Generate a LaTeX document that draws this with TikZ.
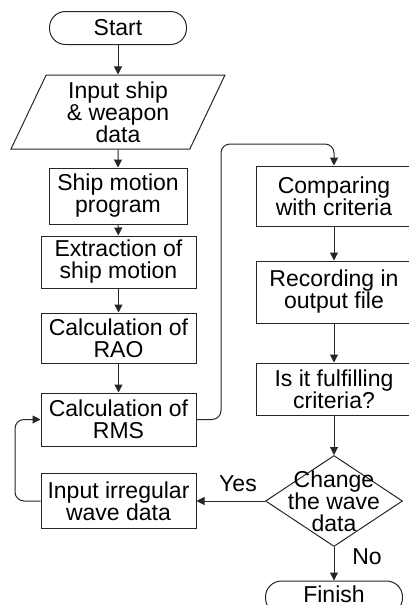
\documentclass[tikz,border=0pt]{standalone}
\usepackage{fontspec}
\setmainfont{Liberation Sans}
\usetikzlibrary{shapes.geometric,arrows.meta}

\begin{document}
\begin{tikzpicture}[x=1pt,y=-1pt,font=\fontsize{23}{22}\selectfont]
\tikzstyle{terminal} = [draw=black!85, line width=1pt, rectangle, rounded corners=16pt, minimum width=137pt, minimum height=33pt, inner sep=0pt]
\tikzstyle{inputbox} = [draw=black!85, line width=1pt, trapezium, trapezium left angle=60, trapezium right angle=120, trapezium stretches body, minimum width=214pt, minimum height=74pt, inner sep=0pt, align=center]
\tikzstyle{process} = [draw=black!85, line width=1pt, rectangle, inner sep=0pt, align=center]
\tikzstyle{decision} = [draw=black!85, line width=1pt, diamond, minimum width=137pt, minimum height=91pt, inner sep=0pt]
\tikzstyle{flow edge} = [draw=black!85, line width=1pt, -{Triangle[length=8pt,width=8pt]}]
\tikzstyle{loop edge} = [flow edge, rounded corners=9pt]
\useasboundingbox (0,0) rectangle (409,605);
\clip (0,0) rectangle (409,605);
% left column
\node[terminal] (start) at (118,28) {Start};
\node[inputbox] (input) at (118,112) {Input ship\\\& weapon\\data};
\node[process, minimum width=138pt, minimum height=56pt] (ship) at (118,196) {Ship motion\\program};
\node[process, minimum width=155pt, minimum height=52pt] (extract) at (118.5,262) {Extraction of\\ship motion};
\node[process, minimum width=155pt, minimum height=50pt] (rao) at (118.5,338) {Calculation of\\RAO};
\node[process, minimum width=155pt, minimum height=53pt] (rms) at (118.5,419.5) {Calculation of\\RMS};
\node[process, minimum width=155pt, minimum height=55pt] (irreg) at (118.5,501) {Input irregular\\wave data};
% right column
\node[process, minimum width=156pt, minimum height=60pt] (comp) at (334,196) {Comparing\\with criteria};
\node[process, minimum width=156pt, minimum height=62pt] (record) at (334,292) {Recording in\\output file};
\node[process, minimum width=156pt, minimum height=52pt] (check) at (334,389) {Is it fulfilling\\criteria?};
\node[decision, label={[align=center]center:Change\\the wave\\data}] (change) at (334,501) {};
\node[terminal, text depth=7pt] (finish) at (334,597.5) {Finish};
\node (yes) at (238,484) {Yes};
\node (no) at (367,557) {No};
\coordinate (c_top) at (221,144);
\coordinate (c_left) at (15,501);
\path[flow edge] (start) -- (input);
\path[flow edge] (input) -- (ship);
\path[flow edge] (ship) -- (extract);
\path[flow edge] (extract) -- (rao);
\path[flow edge] (rao) -- (rms);
\path[loop edge] (rms.east) -| (c_top) -| (comp.north);
\path[flow edge] (comp) -- (record);
\path[flow edge] (record) -- (check);
\path[flow edge] (check) -- (change);
\path[flow edge] (change) -- (finish);
\path[flow edge] (change) -- (irreg);
\path[loop edge] (irreg.west) -- (c_left) |- (rms.west);
\end{tikzpicture}
\end{document}
